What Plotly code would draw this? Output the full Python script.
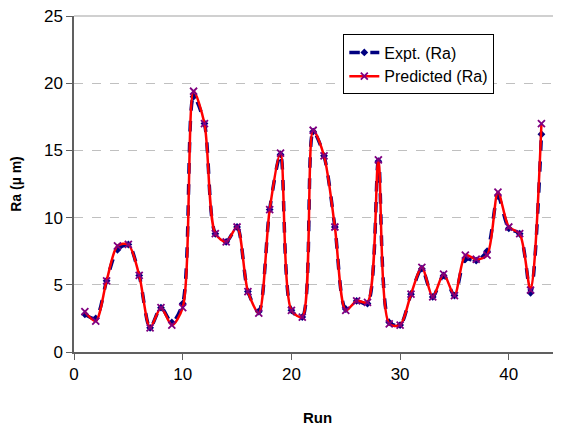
import plotly.graph_objects as go

runs = list(range(1, 44))
expt = [2.8, 2.5, 5.3, 7.6, 8.0, 5.7, 1.8, 3.3, 2.2, 3.6,
        19.0, 17.0, 8.8, 8.2, 9.3, 4.5, 3.0, 10.6, 14.7, 3.1,
        2.6, 16.4, 14.6, 9.3, 3.2, 3.8, 3.6, 14.2, 2.2, 2.0,
        4.3, 6.2, 4.1, 5.7, 4.2, 6.9, 6.8, 7.5, 11.6, 9.2,
        8.8, 4.4, 16.2]
pred = [3.0, 2.3, 5.3, 7.9, 8.0, 5.7, 1.8, 3.3, 2.0, 3.3,
        19.4, 17.0, 8.8, 8.2, 9.3, 4.5, 2.9, 10.6, 14.8, 3.1,
        2.6, 16.5, 14.6, 9.3, 3.1, 3.8, 3.7, 14.3, 2.1, 2.0,
        4.3, 6.3, 4.1, 5.8, 4.2, 7.2, 6.9, 7.2, 11.9, 9.3,
        8.8, 4.6, 17.0]

fig = go.Figure()
fig.add_trace(go.Scatter(
    x=runs, y=expt, name="Expt. (Ra)", mode="lines+markers",
    line=dict(color="#000080", width=3.5, dash="dash", shape="spline", smoothing=0.8),
    marker=dict(symbol="diamond", size=6, color="#000080"),
))
fig.add_trace(go.Scatter(
    x=runs, y=pred, name="Predicted (Ra)", mode="lines+markers",
    line=dict(color="#ff0000", width=2.5, shape="spline", smoothing=0.8),
    marker=dict(symbol="x-thin", size=7, color="#800080",
                line=dict(color="#800080", width=1.8)),
))

fig.update_layout(
    width=553, height=422,
    margin=dict(l=66, r=0, t=8, b=78, autoexpand=False),
    plot_bgcolor="white", paper_bgcolor="white",
    font=dict(family="Liberation Sans, Arial, sans-serif", color="black", size=17),
    showlegend=True,
    legend=dict(x=0.553, y=0.945, xanchor="left", yanchor="top",
                bordercolor="black", borderwidth=1, bgcolor="white",
                font=dict(size=16), tracegroupgap=0, itemwidth=30),
    xaxis=dict(range=[0, 44.8], tickvals=[0, 10, 20, 30, 40], automargin=False,
               ticklabeloverflow="allow",
               showgrid=False, zeroline=False, showline=True,
               linecolor="#606060", linewidth=1.5,
               ticks="outside", ticklen=6, tickcolor="#606060",
               title=dict(text="<b>Run</b>", font=dict(size=15), standoff=29)),
    yaxis=dict(range=[0, 25], tickvals=[0, 5, 10, 15, 20, 25], automargin=False,
               ticklabeloverflow="allow",
               showgrid=True, gridcolor="#c0c0c0", griddash="dash", gridwidth=1,
               zeroline=False, showline=True,
               linecolor="#606060", linewidth=1.5,
               ticks="outside", ticklen=6, tickcolor="#606060",
               title=dict(text="<b>Ra (µ m)</b>", font=dict(size=14), standoff=24)),
)
fig.add_shape(type="line", xref="paper", yref="paper", x0=0, x1=1, y0=1, y1=1,
              line=dict(color="#c0c0c0", width=1.5))

fig.write_html("out.html")
